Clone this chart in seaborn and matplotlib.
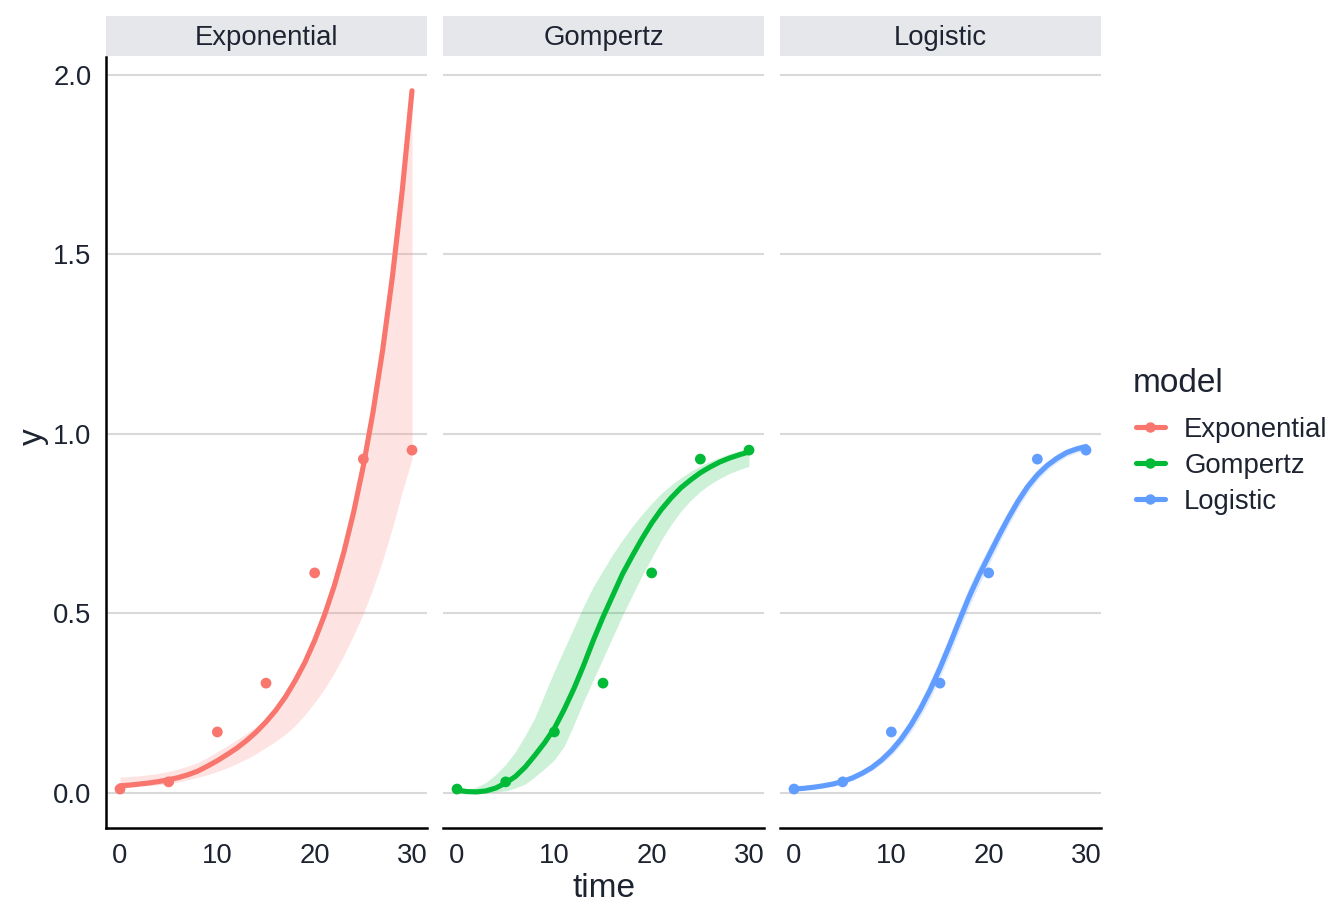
import matplotlib
matplotlib.use("Agg")
import matplotlib.pyplot as plt
import seaborn as sns
import pandas as pd
from matplotlib.lines import Line2D

# ---------------- data ----------------
models = ["Exponential", "Gompertz", "Logistic"]
colors = ["#F8766D", "#00BA38", "#619CFF"]

obs_time = [0, 5, 10, 15, 20, 25, 30]
obs_y = [0.011, 0.031, 0.170, 0.306, 0.613, 0.930, 0.955]

fit_time = list(range(31))

exp_fit = [0.020, 0.022, 0.025, 0.028, 0.032, 0.037, 0.043, 0.051, 0.061, 0.075,
           0.090, 0.107, 0.125, 0.146, 0.170, 0.198, 0.230, 0.268, 0.313, 0.364,
           0.425, 0.495, 0.576, 0.671, 0.782, 0.911, 1.062, 1.237, 1.441, 1.679, 1.956]
exp_lo = [0.015, 0.017, 0.019, 0.021, 0.023, 0.026, 0.031, 0.037, 0.044, 0.051,
          0.060, 0.070, 0.082, 0.095, 0.110, 0.127, 0.144, 0.164, 0.188, 0.218,
          0.252, 0.290, 0.334, 0.384, 0.440, 0.500, 0.570, 0.650, 0.740, 0.840, 0.930]
exp_hi = [0.044, 0.046, 0.048, 0.051, 0.055, 0.060, 0.067, 0.075, 0.085, 0.099,
          0.115, 0.131, 0.148, 0.166, 0.185, 0.207, 0.233, 0.270, 0.315, 0.366,
          0.427, 0.497, 0.578, 0.673, 0.784, 0.913, 1.064, 1.239, 1.443, 1.681, 1.958]

gom_fit = [0.008, 0.004, 0.003, 0.006, 0.014, 0.028, 0.046, 0.072, 0.105, 0.140,
           0.180, 0.232, 0.290, 0.355, 0.425, 0.490, 0.550, 0.610, 0.660, 0.708,
           0.752, 0.790, 0.822, 0.850, 0.872, 0.892, 0.908, 0.922, 0.933, 0.942, 0.950]
gom_lo = [0.000, 0.000, 0.000, 0.001, 0.003, 0.006, 0.014, 0.025, 0.045, 0.068,
          0.092, 0.130, 0.190, 0.255, 0.315, 0.375, 0.435, 0.495, 0.550, 0.605,
          0.655, 0.705, 0.748, 0.785, 0.815, 0.840, 0.860, 0.876, 0.890, 0.901, 0.910]
gom_hi = [0.008, 0.010, 0.016, 0.030, 0.052, 0.080, 0.115, 0.160, 0.210, 0.275,
          0.340, 0.400, 0.460, 0.520, 0.575, 0.620, 0.665, 0.705, 0.742, 0.776,
          0.807, 0.835, 0.858, 0.878, 0.896, 0.911, 0.924, 0.935, 0.945, 0.953, 0.960]

log_fit = [0.011, 0.013, 0.016, 0.020, 0.025, 0.032, 0.042, 0.055, 0.071, 0.092,
           0.118, 0.150, 0.189, 0.235, 0.288, 0.348, 0.413, 0.481, 0.547, 0.606,
           0.660, 0.714, 0.765, 0.812, 0.853, 0.886, 0.912, 0.932, 0.948, 0.958, 0.965]
log_lo = [0.007, 0.009, 0.011, 0.015, 0.019, 0.026, 0.035, 0.047, 0.062, 0.081,
          0.105, 0.134, 0.170, 0.213, 0.263, 0.321, 0.385, 0.453, 0.519, 0.579,
          0.635, 0.691, 0.744, 0.793, 0.836, 0.871, 0.899, 0.920, 0.937, 0.948, 0.955]
log_hi = [0.015, 0.017, 0.021, 0.025, 0.031, 0.038, 0.049, 0.063, 0.080, 0.103,
          0.131, 0.166, 0.208, 0.257, 0.313, 0.375, 0.441, 0.509, 0.575, 0.633,
          0.685, 0.737, 0.786, 0.831, 0.870, 0.901, 0.925, 0.944, 0.959, 0.968, 0.975]

x_ticks = [0, 10, 20, 30]
y_ticks = [0.0, 0.5, 1.0, 1.5, 2.0]
y_tick_labels = ["0.0", "0.5", "1.0", "1.5", "2.0"]

fits = {"Exponential": (exp_fit, exp_lo, exp_hi),
        "Gompertz": (gom_fit, gom_lo, gom_hi),
        "Logistic": (log_fit, log_lo, log_hi)}

# ---------------- style ----------------
sns.set_theme(style="white")
plt.rcParams["font.family"] = ["Liberation Sans", "DejaVu Sans"]
TXT = "#1d2330"
FS = 19.8
FT = 24

W, H = 1344, 921
fig = plt.figure(figsize=(W / 100, H / 100), dpi=100)

panel_left_px = [106, 443, 780]
panel_w_px = 321
top_px, bot_px = 57, 828
LW = 3.7

for i, (m, c) in enumerate(zip(models, colors)):
    left = panel_left_px[i] / W
    ax = fig.add_axes([left, 1 - bot_px / H, panel_w_px / W, (bot_px - top_px) / H])
    fit, lo, hi = fits[m]
    ax.fill_between(fit_time, lo, hi, color=c, alpha=0.2, lw=0, zorder=2)
    df_fit = pd.DataFrame({"time": fit_time, "y": fit})
    sns.lineplot(data=df_fit, x="time", y="y", color=c, linewidth=LW, ax=ax, zorder=3)
    df_obs = pd.DataFrame({"time": obs_time, "y": obs_y})
    sns.scatterplot(data=df_obs, x="time", y="y", color=c, s=60, edgecolor="none",
                    ax=ax, zorder=4)
    ax.set_xlim(-1.44, 31.54)
    ax.set_ylim(-0.0975, 2.050)
    ax.set_xticks(x_ticks)
    ax.set_xticklabels([str(t) for t in x_ticks])
    ax.set_yticks(y_ticks)
    ax.yaxis.grid(True, color="#D9D9D9", lw=1.5)
    ax.xaxis.grid(False)
    ax.set_axisbelow(True)
    ax.set_xlabel("")
    ax.set_ylabel("")
    for s in ["top", "right"]:
        ax.spines[s].set_visible(False)
    ax.spines["bottom"].set_color("black")
    ax.spines["bottom"].set_linewidth(1.8)
    ax.tick_params(axis="x", direction="out", length=4.3, width=1.8, color="black",
                   labelsize=FS, labelcolor=TXT, pad=6.2)
    if i == 0:
        ax.spines["left"].set_color("black")
        ax.spines["left"].set_linewidth(1.8)
        ax.set_yticklabels(y_tick_labels)
        ax.tick_params(axis="y", direction="out", length=4.3, width=1.8, color="black",
                       labelsize=FS, labelcolor=TXT, pad=6.0)
    else:
        ax.spines["left"].set_visible(False)
        ax.tick_params(axis="y", left=False, labelleft=False)
    ax.set_facecolor("white")

    # strip
    sax = fig.add_axes([left, 1 - 56 / H, panel_w_px / W, 40 / H])
    sax.set_facecolor("#E5E7EB")
    for s in sax.spines.values():
        s.set_visible(False)
    sax.set_xticks([])
    sax.set_yticks([])
    sax.text(0.5, 0.44, m, ha="center", va="center", fontsize=FS, color=TXT,
             transform=sax.transAxes)

fig.text(604 / W, 1 - 888 / H, "time", ha="center", va="center", fontsize=FT, color=TXT)
fig.text(33 / W, 1 - 437 / H, "y", ha="center", va="center", fontsize=FT, color=TXT,
         rotation=90)

# legend
fig.text(1133 / W, 1 - 383 / H, "model", ha="left", va="center", fontsize=FT, color=TXT)
handles = [Line2D([0], [0], color=c, lw=LW, marker="o", markersize=7.5,
                  markeredgewidth=0) for c in colors]
leg = fig.legend(handles, models, frameon=False, loc="center left",
                 bbox_to_anchor=(1136 / W, 1 - 466 / H), fontsize=FS,
                 handlelength=1.05, handletextpad=0.7, labelspacing=0.36,
                 borderaxespad=0, borderpad=0)
for t in leg.get_texts():
    t.set_color(TXT)

fig.savefig("out.png", dpi=100, facecolor="white")
